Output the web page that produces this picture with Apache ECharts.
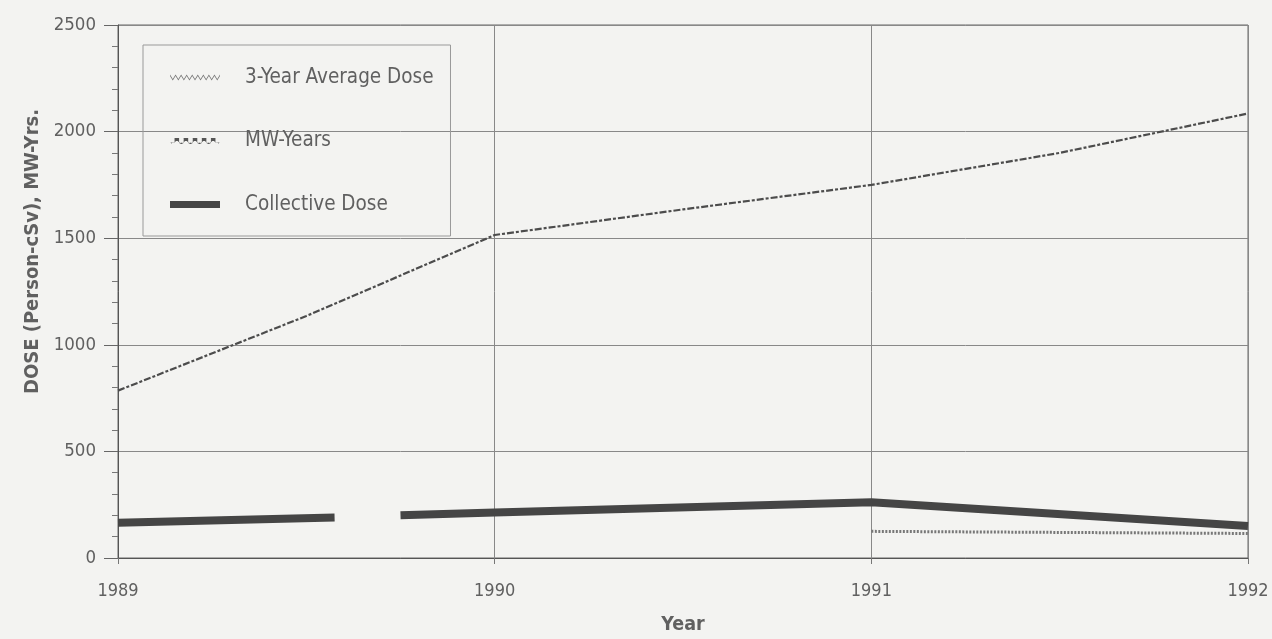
<!DOCTYPE html>
<html>
<head>
<meta charset="utf-8">
<script src="https://cdn.jsdelivr.net/npm/echarts@6/dist/echarts.min.js"></script>
<style>
html,body{margin:0;padding:0;background:#f3f3f1;}
#chart{width:1272px;height:639px;}
</style>
</head>
<body>
<div id="chart"></div>
<script>
// Data
const xTicks = [1989, 1990, 1991, 1992];
const yTicks = [0, 500, 1000, 1500, 2000, 2500];

const avgDoseYears = [1991, 1992];
const avgDoseValues = [125, 115];

const mwYears = [1989, 1989.5, 1990, 1990.5, 1991, 1991.5, 1992];
const mwValues = [785, 1135, 1515, 1635, 1750, 1900, 2085];

// '-' marks the break in the collective dose line
const collYears = [1989, 1989.575, 1989.66, 1989.75, 1990, 1991, 1992];
const collValues = [165, 190, '-', 200, 213, 262, 150];

const pair = (xs, ys) => xs.map((x, i) => [x, ys[i]]);

// legend icon shapes (decorative)
function zigzagIcon(step, amp, thick, n) {
  const top = [], bot = [];
  for (let i = 0; i <= n; i++) {
    const y = (i % 2) ? amp : 0;
    top.push((i * step) + ',' + y);
    bot.unshift((i * step) + ',' + (y + thick));
  }
  return 'path://M' + top.join(' L') + ' L' + bot.join(' L') + ' Z';
}
function stepIcon(w, h, thick, n) {
  const top = [], bot = [];
  for (let i = 0; i < n; i++) {
    const x0 = i * w, y = (i % 2) ? 0 : h;
    top.push(x0 + ',' + y, (x0 + w) + ',' + y);
    bot.unshift(x0 + ',' + (y + thick), (x0 + w) + ',' + (y + thick));
  }
  return 'path://M' + top.join(' L') + ' L' + bot.join(' L') + ' Z';
}

const txt = '#606060';
const font = '"DejaVu Sans Condensed", "Liberation Sans", Arial, sans-serif';

const chart = echarts.init(document.getElementById('chart'));
chart.setOption({
  backgroundColor: '#f3f3f1',
  animation: false,
  textStyle: { fontFamily: font },
  grid: {
    left: 118, right: 24, top: 25, bottom: 81,
    outerBoundsMode: 'none', containLabel: false,
    show: true, borderColor: '#666', borderWidth: 1, backgroundColor: 'transparent'
  },
  legend: {
    orient: 'vertical',
    left: 143, top: 45,
    itemWidth: 50, itemHeight: 14, itemGap: 42.5,
    padding: [22, 17, 21, 27],
    borderColor: '#999', borderWidth: 1,
    textStyle: { fontSize: 20.5, color: txt, fontFamily: font, padding: [0, 0, 0, 20] },
    data: [
      { name: '3-Year Average Dose', icon: zigzagIcon(2.5, 4, 1.4, 18), itemStyle: { color: '#777' } },
      { name: 'MW-Years', icon: stepIcon(4, 4, 1.4, 11), itemStyle: { color: '#555' } },
      { name: 'Collective Dose', icon: 'path://M0,0H50V7H0Z', itemStyle: { color: '#454545' } }
    ]
  },
  xAxis: {
    type: 'value',
    min: xTicks[0], max: xTicks[xTicks.length - 1], interval: 1,
    name: 'Year', nameLocation: 'middle', nameGap: 57,
    nameTextStyle: { fontSize: 19.5, fontWeight: 'bold', color: txt, fontFamily: font },
    axisLine: { show: true, lineStyle: { color: '#555', width: 1 } },
    axisTick: { show: true, length: 6, lineStyle: { color: '#777' } },
    axisLabel: { fontSize: 18, color: txt, margin: 24, formatter: v => String(v) },
    splitLine: { show: true, lineStyle: { color: '#888', width: 1 } }
  },
  yAxis: {
    type: 'value',
    min: yTicks[0], max: yTicks[yTicks.length - 1], interval: 500,
    name: 'DOSE (Person-cSv), MW-Yrs.', nameLocation: 'middle', nameGap: 70,
    nameTextStyle: { fontSize: 20, fontWeight: 'bold', color: txt, fontFamily: font, padding: [0, 0, 0, 80] },
    axisLine: { show: true, lineStyle: { color: '#555', width: 1 } },
    axisTick: { show: true, length: 14, lineStyle: { color: '#666' } },
    minorTick: { show: true, splitNumber: 5, length: 6, lineStyle: { color: '#777' } },
    axisLabel: { fontSize: 18.5, color: txt, margin: 22, formatter: v => String(v) },
    splitLine: { show: true, lineStyle: { color: '#888', width: 1 } }
  },
  series: [
    {
      name: '3-Year Average Dose', type: 'line', symbol: 'none',
      data: pair(avgDoseYears, avgDoseValues),
      lineStyle: { color: '#777', width: 3, type: [2, 1.5] },
      itemStyle: { color: '#777' }
    },
    {
      name: 'MW-Years', type: 'line', symbol: 'none',
      data: pair(mwYears, mwValues),
      lineStyle: { color: '#4c4c4c', width: 2.2, type: [7, 2, 3, 2] },
      itemStyle: { color: '#4c4c4c' }
    },
    {
      name: 'Collective Dose', type: 'line', symbol: 'none',
      data: pair(collYears, collValues),
      connectNulls: false,
      lineStyle: { color: '#454545', width: 8 },
      itemStyle: { color: '#454545' }
    }
  ]
});
</script>
</body>
</html>
